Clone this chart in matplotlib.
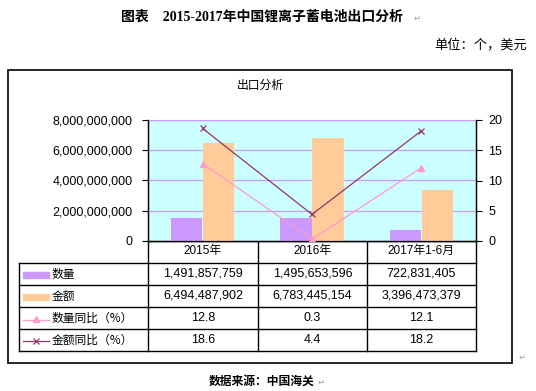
import numpy as np
import matplotlib
matplotlib.use('Agg')
import matplotlib.pyplot as plt

plt.rcParams['font.family'] = ['Liberation Sans', 'Noto Sans CJK SC', 'DejaVu Sans']

categories = ['2015年', '2016年', '2017年1-6月']
qty = [1491857759, 1495653596, 722831405]
amount = [6494487902, 6783445154, 3396473379]
qty_yoy = [12.8, 0.3, 12.1]
amount_yoy = [18.6, 4.4, 18.2]
series_names = ['数量', '金额', '数量同比（%）', '金额同比（%）']

c_qty = '#CC99FF'
c_amt = '#FFCC99'
c_qyoy = '#FF99CC'
c_ayoy = '#993366'

W, H = 536, 391
fig = plt.figure(figsize=(W / 100, H / 100), dpi=100)

# overlay in pixel coords for frame, table and text
ov = fig.add_axes([0, 0, 1, 1], zorder=0)
ov.set_xlim(0, W)
ov.set_ylim(H, 0)
ov.axis('off')

def px(x0, y0, x1, y1):
    return [x0 / W, 1 - y1 / H, (x1 - x0) / W, (y1 - y0) / H]

ax = fig.add_axes(px(148, 120, 476, 241), zorder=2)
ax.set_facecolor('#CCFFFF')
x = np.arange(len(categories))
w = 0.285
ax.bar(x - 0.147, qty, w, color=c_qty, zorder=3)
ax.bar(x + 0.147, amount, w, color=c_amt, zorder=3)
ax.set_xlim(-0.5, 2.5)
ax.set_ylim(0, 8e9)
ax.set_yticks(np.arange(0, 8.1e9, 2e9))
ax.set_yticklabels([f'{int(v):,}' for v in np.arange(0, 8.1e9, 2e9)])
ax.yaxis.grid(True, color='#CC99FF', linewidth=0.9, zorder=1)
ax.set_axisbelow(True)
ax.set_xticks(x)
ax.set_xticklabels(categories)
ax.tick_params(axis='x', length=0, pad=3, labelsize=8.5)
ax.tick_params(axis='y', direction='out', length=4, width=0.8, labelsize=9, pad=7)
ax.spines['top'].set_color('#CC99FF')
for s in ['left', 'bottom', 'right']:
    ax.spines[s].set_linewidth(0.9)

ax2 = ax.twinx()
ax2.set_ylim(0, 20)
ax2.set_yticks([0, 5, 10, 15, 20])
ax2.tick_params(axis='y', direction='out', length=4, width=0.8, labelsize=9, pad=5)
ax2.plot(x, qty_yoy, color=c_qyoy, lw=0.9, marker='^', ms=5, mfc=c_qyoy, mec=c_qyoy, zorder=5)
ax2.plot(x, amount_yoy, color=c_ayoy, lw=0.9, marker='x', ms=5, mew=0.9, zorder=5)
ax2.spines['top'].set_visible(False)
for s in ['left', 'bottom', 'right']:
    ax2.spines[s].set_linewidth(0.9)

# titles and notes
ov.text(262, 17, '图表    2015-2017年中国锂离子蓄电池出口分析', ha='center', va='center',
        fontsize=10, fontweight='bold', family=['Liberation Serif', 'Noto Sans CJK SC'])
ov.text(417, 18, '↵', ha='center', va='center', fontsize=6, color='#999999', family=['DejaVu Sans'])
ov.text(527, 45, '单位：个，美元', ha='right', va='center', fontsize=9.5,
        family=['Noto Sans CJK SC'])
ov.text(262, 381, '数据来源：中国海关', ha='center', va='center', fontsize=8.5,
        fontweight='bold', family=['Noto Sans CJK SC'])
ov.text(318, 382, '↵', ha='left', va='center', fontsize=6, color='#999999', family=['DejaVu Sans'])
ov.text(522, 357, '↵', ha='center', va='center', fontsize=6, color='#999999', family=['DejaVu Sans'])

# chart frame
ov.add_patch(plt.Rectangle((8, 70), 504, 293, fill=False, ec='black', lw=1.2))
ov.text(260, 85, '出口分析', ha='center', va='center', fontsize=8.5, family=['Noto Sans CJK SC'])

# data table
lk = dict(color='black', lw=1.0)
cols = [148, 258, 367, 476]
rows = [263, 285, 307, 329, 351]
for cx in cols:
    ov.plot([cx, cx], [241, 351], **lk)
ov.plot([19, 19], [263, 351], **lk)
ov.plot([148, 476], [241, 241], **lk)
for ry in rows:
    ov.plot([19, 476], [ry, ry], **lk)

table_vals = [[f'{v:,}' for v in qty], [f'{v:,}' for v in amount],
              [f'{v}' for v in qty_yoy], [f'{v}' for v in amount_yoy]]
for i, name in enumerate(series_names):
    yc = (rows[i] + rows[i + 1]) / 2
    ov.text(52, yc, name, ha='left', va='center', fontsize=8.5, family=['Noto Sans CJK SC'])
    for j in range(3):
        ov.text((cols[j] + cols[j + 1]) / 2, yc, table_vals[i][j], ha='center', va='center', fontsize=9)

# legend keys
ov.add_patch(plt.Rectangle((23, 272), 26, 6, color=c_qty))
ov.add_patch(plt.Rectangle((23, 294), 26, 6, color=c_amt))
ov.plot([23, 49], [320, 320], color=c_qyoy, lw=0.9)
ov.plot([36], [319], marker='^', color=c_qyoy, ms=5)
ov.plot([23, 49], [341, 341], color=c_ayoy, lw=0.9)
ov.plot([36], [341], marker='x', color=c_ayoy, ms=4, mew=0.9)

plt.savefig('out.png', dpi=100)
